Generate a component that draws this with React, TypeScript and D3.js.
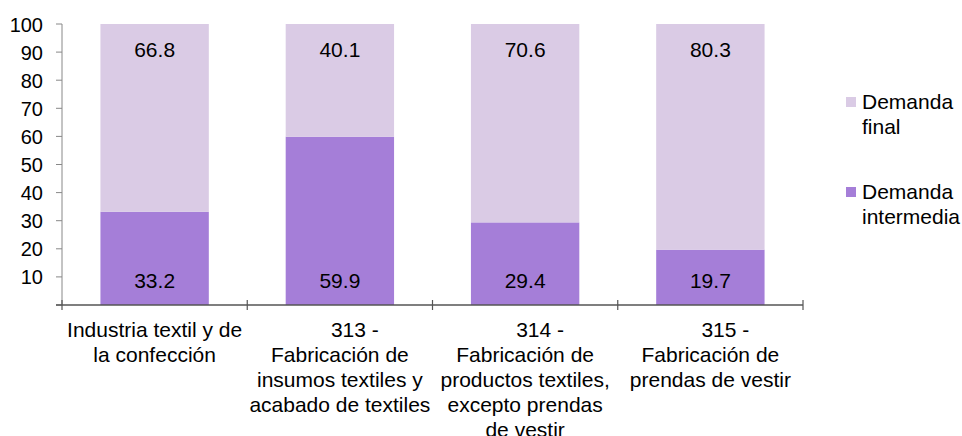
import React from "react";
import * as d3 from "d3";

const categories: string[][] = [
  ["Industria textil y de", "la confección"],
  ["313 -", "Fabricación de", "insumos textiles y", "acabado de textiles"],
  ["314 -", "Fabricación de", "productos textiles,", "excepto prendas", "de vestir"],
  ["315 -", "Fabricación de", "prendas de vestir"],
];
const intermedia = [33.2, 59.9, 29.4, 19.7];
const finalDemand = [66.8, 40.1, 70.6, 80.3];
const yTicks = [10, 20, 30, 40, 50, 60, 70, 80, 90, 100];
const seriesNames = [["Demanda", "final"], ["Demanda", "intermedia"]];

const W = 962, H = 436;
const left = 62, right = 803, top = 24, bottom = 305;
const colFinal = "#DACBE5";
const colInter = "#A57ED8";
const font = "Arial, 'Liberation Sans', sans-serif";

export default function App() {
  const x = d3.scaleBand<number>().domain(d3.range(categories.length)).range([left, right]).paddingInner(0).paddingOuter(0);
  const y = d3.scaleLinear().domain([0, 100]).range([bottom, top]);
  const bw = x.bandwidth() * 0.585;
  return (
    <svg width={W} height={H} style={{ position: "absolute", left: 0, top: 0 }} fontFamily={font}>
      {categories.map((c, i) => {
        const cx = (x(i) as number) + x.bandwidth() / 2;
        const x0 = cx - bw / 2;
        const yi = y(intermedia[i]);
        const yf = y(intermedia[i] + finalDemand[i]);
        return (
          <g key={i}>
            <rect x={x0} y={yi} width={bw} height={bottom - yi} fill={colInter} />
            <rect x={x0} y={yf} width={bw} height={yi - yf} fill={colFinal} />
            <text x={cx} y={yf + 33} textAnchor="middle" fontSize={21} fill="#000">{finalDemand[i].toFixed(1)}</text>
            <text x={cx} y={bottom - 17} textAnchor="middle" fontSize={21} fill="#000">{intermedia[i].toFixed(1)}</text>
            {c.map((line, j) => (
              <text key={j} x={cx + (line.endsWith(" -") ? 15 : 0)} y={337 + j * 25} textAnchor="middle" fontSize={21} fill="#000">{line}</text>
            ))}
          </g>
        );
      })}
      {/* y axis */}
      <line x1={left} x2={left} y1={top} y2={bottom} stroke="#888" strokeWidth={1} />
      {[0, ...yTicks].map((t) => (
        <line key={"t" + t} x1={left - 6} x2={left} y1={y(t)} y2={y(t)} stroke="#888" strokeWidth={1} />
      ))}
      {yTicks.map((t) => (
        <text key={t} x={43} y={y(t) + 7.5} textAnchor="end" fontSize={20} fill="#000">{t}</text>
      ))}
      {/* x axis */}
      <line x1={left - 6} x2={right} y1={bottom} y2={bottom} stroke="#555" strokeWidth={1.5} />
      {d3.range(categories.length + 1).map((i) => {
        const xx = i < categories.length ? (x(i) as number) : right;
        return <line key={"x" + i} x1={xx} x2={xx} y1={bottom - 5} y2={bottom + 5} stroke="#555" strokeWidth={1.2} />;
      })}
      {/* legend */}
      {seriesNames.map((n, k) => {
        const sy = k === 0 ? 97 : 187;
        return (
          <g key={k}>
            <rect x={846} y={sy} width={10} height={10} fill={k === 0 ? colFinal : colInter} />
            <text x={862} y={sy + 11.5} fontSize={21} fill="#000">{n[0]}</text>
            <text x={862} y={sy + 36.5} fontSize={21} fill="#000">{n[1]}</text>
          </g>
        );
      })}
    </svg>
  );
}
